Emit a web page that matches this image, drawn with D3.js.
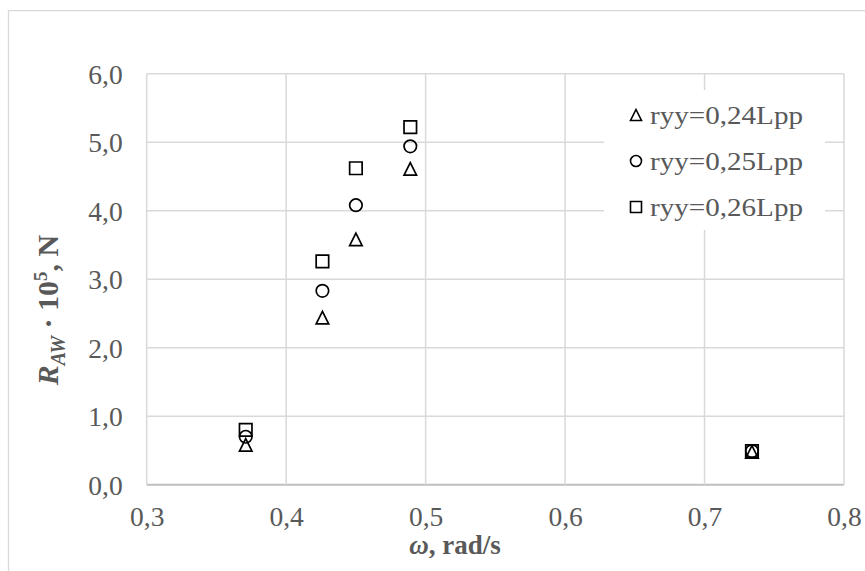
<!DOCTYPE html>
<html><head><meta charset="utf-8">
<script src="https://cdn.jsdelivr.net/npm/d3@7"></script>
<style>html,body{margin:0;padding:0;background:#fff;}svg{display:block;}</style>
</head><body>
<svg id="chart" width="865" height="571"></svg>
<script>
const omega = [0.371, 0.426, 0.450, 0.489, 0.734];
const ryy24 = [0.58, 2.44, 3.58, 4.61, 0.48];
const ryy25 = [0.70, 2.83, 4.08, 4.94, 0.49];
const ryy26 = [0.80, 3.26, 4.62, 5.22, 0.49];
const seriesNames = ["ryy=0,24Lpp", "ryy=0,25Lpp", "ryy=0,26Lpp"];
const seriesShapes = ["triangle", "circle", "square"];
const xTicks = [0.3, 0.4, 0.5, 0.6, 0.7, 0.8];
const yTicks = [0, 1, 2, 3, 4, 5, 6];

const svg = d3.select("#chart");
const x = d3.scaleLinear().domain([0.3, 0.8]).range([146.7, 844]);
const y = d3.scaleLinear().domain([0, 6]).range([484.7, 73.7]);
const fmt = v => d3.format(".1f")(v).replace(".", ",");
const grid = "#d9d9d9", txt = "#595959";
const serif = "Liberation Serif, Times New Roman, serif";

// outer chart border
svg.append("path").attr("d", "M8.5,571 V10.7 H865").attr("fill", "none").attr("stroke", grid).attr("stroke-width", 1.3);

// gridlines
svg.append("g").selectAll("line").data(yTicks).join("line")
  .attr("x1", x(0.3)).attr("x2", x(0.8)).attr("y1", d => y(d)).attr("y2", d => y(d))
  .attr("stroke", d => d === 0 ? "#bfbfbf" : grid).attr("stroke-width", d => d === 0 ? 2 : 1.5);
svg.append("g").selectAll("line").data(xTicks).join("line")
  .attr("y1", y(0)).attr("y2", y(6)).attr("x1", d => x(d)).attr("x2", d => x(d))
  .attr("stroke", grid).attr("stroke-width", 1.5);

// axes tick labels via d3 axes
const yAxis = d3.axisLeft(y).tickValues(yTicks).tickFormat(fmt).tickSize(0).tickPadding(24);
const gy = svg.append("g").attr("transform", `translate(${x(0.3)},0)`).call(yAxis);
const xAxis = d3.axisBottom(x).tickValues(xTicks).tickFormat(fmt).tickSize(0).tickPadding(22);
const gx = svg.append("g").attr("transform", `translate(0,${y(0)})`).call(xAxis);
[gx, gy].forEach(g => {
  g.select(".domain").remove();
  g.selectAll("text").attr("font-family", serif).attr("font-size", 27.5).attr("fill", txt);
});
gy.selectAll("text").attr("dy", "0.34em");

// markers
function drawMarker(g, shape, cx, cy, s, sw) {
  const h = s / 2;
  if (shape === "circle") {
    g.append("circle").attr("cx", cx).attr("cy", cy).attr("r", h)
      .attr("fill", "none").attr("stroke", "#000").attr("stroke-width", sw);
  } else {
    const d = shape === "square"
      ? `M${cx-h},${cy-h}h${s}v${s}h${-s}Z`
      : `M${cx},${cy-h}L${cx+h},${cy+h}L${cx-h},${cy+h}Z`;
    g.append("path").attr("d", d)
      .attr("fill", "none").attr("stroke", "#000").attr("stroke-width", sw);
  }
}
const allSeries = [ryy24, ryy25, ryy26];
const gm = svg.append("g");
allSeries.forEach((vals, i) => {
  vals.forEach((v, j) => drawMarker(gm, seriesShapes[i], x(omega[j]), y(v), 12.5, 1.7));
});

// legend
const lg = svg.append("g");
lg.append("rect").attr("x", 604).attr("y", 90).attr("width", 221).attr("height", 140).attr("fill", "#fff");
seriesNames.forEach((name, i) => {
  const cy = 115 + i * 46;
  drawMarker(lg, seriesShapes[i], 636, cy, 11, 1.6);
  lg.append("text").attr("x", 650).attr("y", cy).attr("dy", "0.34em")
    .attr("font-family", serif).attr("font-size", 25)
    .attr("fill", txt).attr("textLength", 153).attr("lengthAdjust", "spacingAndGlyphs").text(name);
});

// axis titles
const xt = svg.append("text").attr("x", 455).attr("y", 545).attr("dy", "0.34em").attr("text-anchor", "middle")
  .attr("font-family", serif).attr("font-size", 27)
  .attr("font-weight", "bold").attr("fill", txt);
xt.append("tspan").attr("font-style", "italic").text("ω");
xt.append("tspan").text(", rad/s");

const yt = svg.append("text").attr("transform", "translate(48,310) rotate(-90)").attr("text-anchor", "middle")
  .attr("dy", "0.34em")
  .attr("font-family", serif).attr("font-size", 30)
  .attr("font-weight", "bold").attr("fill", txt);
yt.append("tspan").attr("font-style", "italic").text("R");
yt.append("tspan").attr("font-style", "italic").attr("font-size", 20).attr("dy", 7).text("AW");
yt.append("tspan").attr("dy", -7).text(" · 10");
yt.append("tspan").attr("font-size", 19).attr("dy", -11).text("5");
yt.append("tspan").attr("dy", 11).text(", N");
</script>
</body></html>
